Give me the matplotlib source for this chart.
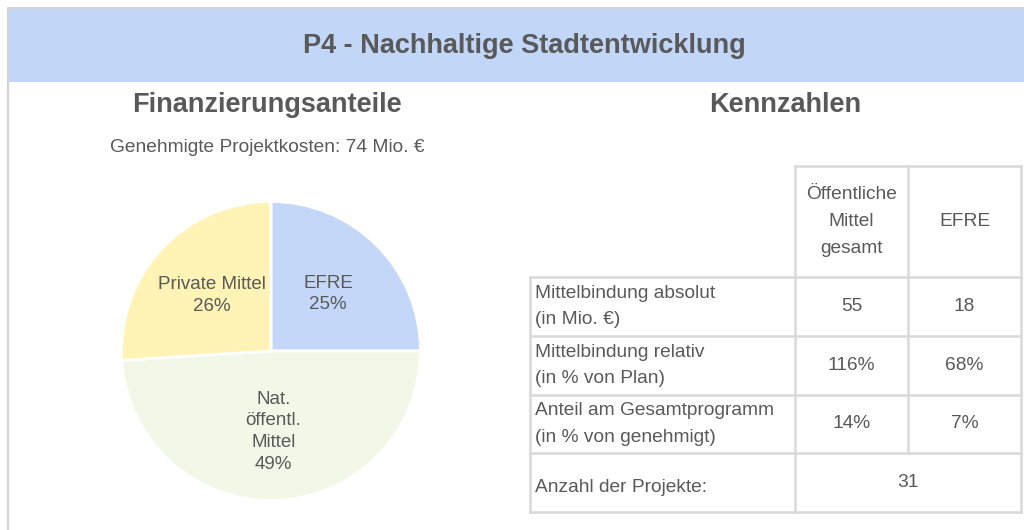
import matplotlib.pyplot as plt
from matplotlib.patches import Rectangle

plt.rcParams['font.family'] = ['Liberation Sans', 'DejaVu Sans']

# data
title = 'P4 - Nachhaltige Stadtentwicklung'
pie_title = 'Finanzierungsanteile'
pie_subtitle = 'Genehmigte Projektkosten: 74 Mio. €'
pie_names = ['EFRE', 'Nat.\nöffentl.\nMittel', 'Private Mittel']
pie_shares = [25, 49, 26]
pie_colors = ['#C4D7F9', '#F2F8E8', '#FFF3B5']

table_title = 'Kennzahlen'
col_headers = ['Öffentliche\nMittel\ngesamt', 'EFRE']
row_labels = ['Mittelbindung absolut\n(in Mio. €)',
              'Mittelbindung relativ\n(in % von Plan)',
              'Anteil am Gesamtprogramm\n(in % von genehmigt)']
oeff_values = ['55', '116%', '14%']
efre_values = ['18', '68%', '7%']
projects_label = 'Anzahl der Projekte:'
projects_count = '31'

text_col = '#595959'
line_col = '#D9D9D9'

fig = plt.figure(figsize=(10.24, 5.3), dpi=100)
bg = fig.add_axes([0, 0, 1, 1])
bg.set_xlim(0, 1024)
bg.set_ylim(530, 0)
bg.axis('off')

# frame + banner
bg.plot([8, 8, 1024], [530, 8, 8], color='#D4D4D4', lw=1.5)
bg.add_patch(Rectangle((9, 9), 1015, 73, color='#C2D6F8', lw=0))
bg.text(524, 46, title, ha='center', va='center', fontsize=19.5,
        fontweight='bold', color=text_col)

bg.text(267, 105, pie_title, ha='center', va='center', fontsize=19.5,
        fontweight='bold', color=text_col)
bg.text(267, 148, pie_subtitle, ha='center', va='center', fontsize=13.8,
        color=text_col)
bg.text(785, 105, table_title, ha='center', va='center', fontsize=19.5,
        fontweight='bold', color=text_col)

# pie
pax = fig.add_axes([120 / 1024, 28 / 530, 302 / 1024, 302 / 530])
labels = [f'{n}\n{s}%' for n, s in zip(pie_names, pie_shares)]
wedges, texts = pax.pie(pie_shares, labels=labels, colors=pie_colors,
                        startangle=90, counterclock=False, labeldistance=0.54,
                        wedgeprops=dict(edgecolor='white', linewidth=2),
                        textprops=dict(color=text_col, fontsize=13.5))
for t in texts:
    t.set_ha('center')
    t.set_va('center')
    t.set_linespacing(1.35)
pax.set_xlim(-1.01, 1.01)
pax.set_ylim(-1.01, 1.01)
pax.set_aspect('equal')

# table
xs = [530, 795, 908, 1021]
ys = [166, 277, 336, 395, 453, 512]
lw = 1.8
# header cells (only data columns)
bg.plot([xs[1], xs[3]], [ys[0], ys[0]], color=line_col, lw=lw)
for x in xs[1:]:
    bg.plot([x, x], [ys[0], ys[1]], color=line_col, lw=lw)
for y in ys[1:]:
    bg.plot([xs[0], xs[3]], [y, y], color=line_col, lw=lw)
for x in [xs[0], xs[1], xs[3]]:
    bg.plot([x, x], [ys[1], ys[5]], color=line_col, lw=lw)
bg.plot([xs[2], xs[2]], [ys[1], ys[4]], color=line_col, lw=lw)

fs = 13.8
for i, h in enumerate(col_headers):
    cx = (xs[i + 1] + xs[i + 2]) / 2
    bg.text(cx, (ys[0] + ys[1]) / 2, h, ha='center', va='center',
            fontsize=fs, color=text_col, linespacing=1.75)
for i, lab in enumerate(row_labels):
    cy = (ys[i + 1] + ys[i + 2]) / 2
    bg.text(xs[0] + 5, cy, lab, ha='left', va='center', fontsize=fs,
            color=text_col, linespacing=1.7)
    bg.text((xs[1] + xs[2]) / 2, cy, oeff_values[i], ha='center',
            va='center', fontsize=fs, color=text_col)
    bg.text((xs[2] + xs[3]) / 2, cy, efre_values[i], ha='center',
            va='center', fontsize=fs, color=text_col)
cy = (ys[4] + ys[5]) / 2
bg.text(xs[0] + 5, cy + 5, projects_label, ha='left', va='center',
        fontsize=fs, color=text_col)
bg.text((xs[1] + xs[3]) / 2, cy, projects_count, ha='center',
        va='center', fontsize=fs, color=text_col)

fig.savefig('out.png', dpi=100)
